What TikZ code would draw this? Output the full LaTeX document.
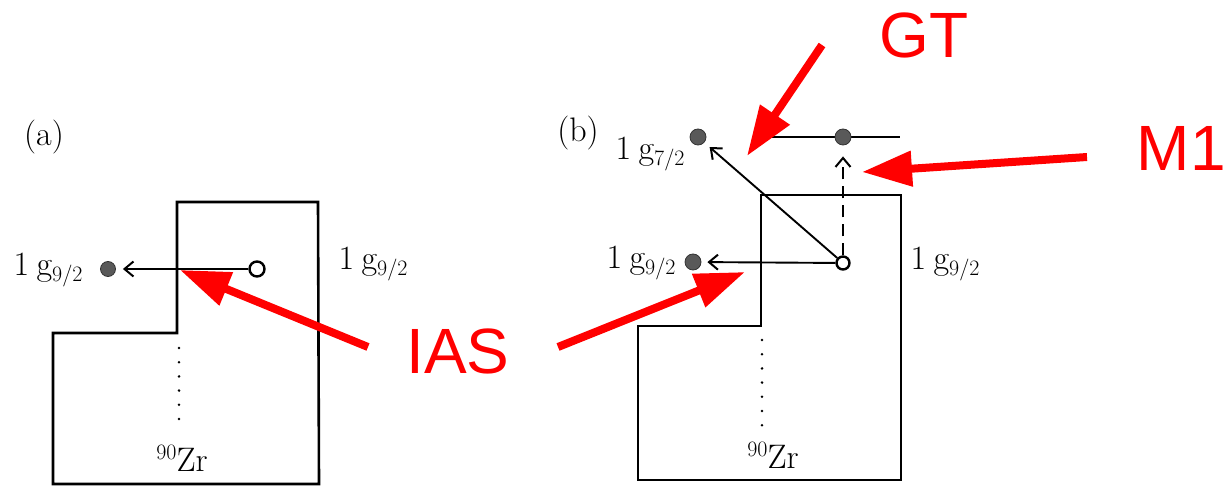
\documentclass[tikz,border=0pt]{standalone}
\usepackage{fontspec}
\newfontfamily\redfont{Liberation Sans}
\usetikzlibrary{arrows.meta}
\newcommand{\lvl}[1]{1\hspace{0.22em}g\raisebox{-5.5pt}{\fontsize{22}{23}\selectfont #1}}
\newcommand{\zrlab}{\raisebox{12pt}{\fontsize{22}{23}\selectfont 90}Zr}
\begin{document}
\begin{tikzpicture}[x=1pt,y=-1pt,
  lab/.style={font=\fontsize{34}{36}\selectfont, inner sep=0pt},
  fdot/.style={circle, fill=black!65, draw=black!80, line width=0.8pt, minimum size=16pt, inner sep=0pt},
  odot/.style={circle, draw=black, line width=2.4pt, fill=white, minimum size=13pt, inner sep=0pt},
  tr/.style={line width=1.9pt, -{Straight Barb[length=9pt,width=15pt,line width=2pt]}},
  wall/.style={line width=2.6pt, line join=miter},
  dotline/.style={line width=2.8pt, line cap=round, dash pattern=on 0pt off 14.2pt},
  redarr/.style={draw=red, line width=8pt, -{Triangle[length=50pt,width=34pt]}},
  redlab/.style={text=red, font=\redfont\fontsize{64}{70}\selectfont, inner sep=0pt}]
\useasboundingbox (0,0) rectangle (1226,486);

% ---------- panel (a)
\node[lab] (la) at (44,137) {(a)};
\draw[wall] (53,484) -- (53,333) -- (177,333) -- (177,202) -- (318,202) -- (319,484) -- cycle;
\node[odot, minimum size=15pt] (ao) at (257,269) {};
\node[fdot, minimum size=15pt] (af) at (108,269) {};
\draw[tr, shorten >=7pt] (ao) -- (af);
\node[lab] (al) at (48,270) {\lvl{9/2}};
\node[lab] (ar) at (373,264) {\lvl{9/2}};
\coordinate (ad1) at (179,348);
\coordinate (ad2) at (179,433);
\draw[dotline] (ad1) -- (ad2);
\node[lab] (azr) at (182,458) {\zrlab};

% ---------- panel (b)
\node[lab] (lb) at (578,133) {(b)};
\draw[wall] (638,480) -- (638,326) -- (761,326) -- (761,195) -- (901,195) -- (901,480) -- cycle;
\coordinate (tl1) at (770,137);
\coordinate (tl2) at (900,137);
\draw[line width=1.9pt] (tl1) -- (tl2);
\node[fdot] (bm) at (843,137) {};
\node[fdot] (bg7) at (698,137) {};
\node[lab] (bl7) at (650,154) {\lvl{7/2}};
\node[odot] (bo) at (843,263) {};
\node[fdot] (bg9) at (693,262) {};
\node[lab] (bl9) at (641,263) {\lvl{9/2}};
\node[lab] (br9) at (945,264) {\lvl{9/2}};
\draw[tr, shorten >=6pt] (bo) -- (bg9);
\draw[tr, shorten >=7pt] (bo) -- (bg7);
\draw[tr, dash pattern=on 12pt off 7pt, shorten >=11pt] (bo) -- (bm);
\coordinate (bd1) at (762,340);
\coordinate (bd2) at (762,427);
\draw[dotline] (bd1) -- (bd2);
\node[lab] (bzr) at (773,455) {\zrlab};

% ---------- red annotations
\node[redlab] (gt) at (924,35) {GT};
\coordinate (gts) at (822,45);
\coordinate (gtt) at (747,156);
\draw[redarr] (gts) -- (gtt);

\node[redlab, anchor=east] (m1) at (1226,148) {M1};
\coordinate (m1s) at (1087,157);
\coordinate (m1t) at (862,172);
\draw[redarr] (m1s) -- (m1t);

\node[redlab] (ias) at (458,351) {IAS};
\coordinate (iasa) at (368,347);
\coordinate (iasat) at (180,270);
\draw[redarr] (iasa) -- (iasat);
\coordinate (iasb) at (558,347);
\coordinate (iasbt) at (745,272);
\draw[redarr] (iasb) -- (iasbt);
\end{tikzpicture}
\end{document}
